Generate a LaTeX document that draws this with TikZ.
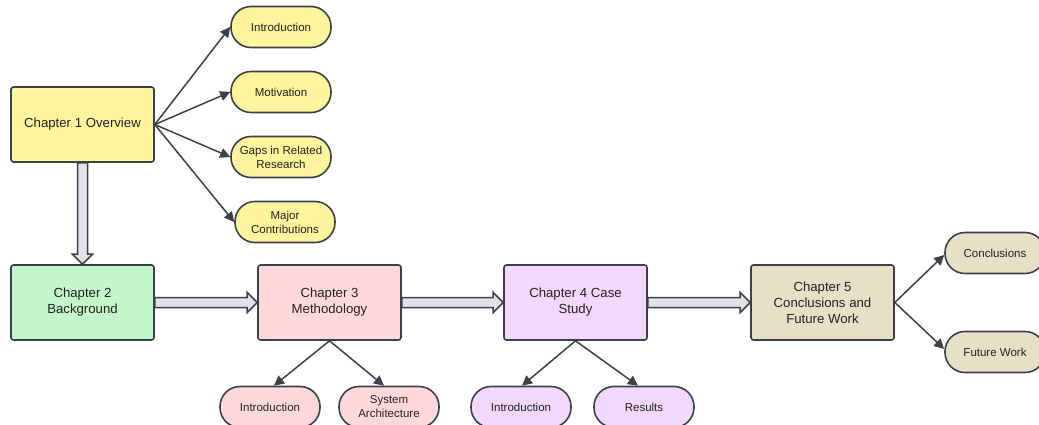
\documentclass[tikz,border=0pt]{standalone}
\usepackage{fontspec}
\setmainfont{Liberation Sans}
\usetikzlibrary{arrows.meta,calc}

\definecolor{edge}{HTML}{3A414B}
\definecolor{ink}{HTML}{222222}
\definecolor{yel}{HTML}{FFF59D}
\definecolor{grn}{HTML}{C3F6C8}
\definecolor{pnk}{HTML}{FFD9D9}
\definecolor{prp}{HTML}{F2D8FD}
\definecolor{tan}{HTML}{E8E0C6}
\definecolor{pipe}{HTML}{DFE3E8}

\tikzset{
  chapter/.style={draw=edge, line width=1.6pt, rounded corners=2.5pt,
    minimum width=143pt, minimum height=75pt, align=center, text=ink,
    font=\fontsize{13.2}{16}\selectfont, inner sep=2pt},
  topic/.style={draw=edge, line width=1.6pt, rounded corners=20pt,
    minimum width=100pt, minimum height=41pt, align=center, text=ink,
    font=\fontsize{11.5}{14}\selectfont, inner sep=1pt},
  link/.style={draw=edge, line width=1.5pt,
    -{Triangle[length=10pt,width=10pt]}},
  pipeflow/.style={draw=edge, fill=pipe, line width=1.5pt, line join=miter},
}

\begin{document}
\begin{tikzpicture}[x=1pt,y=-1pt]
\useasboundingbox (0,0) rectangle (1039,425);

% chapter boxes
\node[chapter, fill=yel] (c1) at (82.5,124.5) {Chapter 1 Overview};
\node[chapter, fill=grn] (c2) at (82.5,302.5) {Chapter 2\\Background};
\node[chapter, fill=pnk] (c3) at (329.5,302.5) {Chapter 3\\Methodology};
\node[chapter, fill=prp] (c4) at (575.5,302.5) {Chapter 4 Case\\Study};
\node[chapter, fill=tan] (c5) at (822.5,302.5) {Chapter 5\\Conclusions and\\Future Work};

% chapter 1 topics
\node[topic, fill=yel] (t11) at (281,27) {Introduction};
\node[topic, fill=yel] (t12) at (281,92) {Motivation};
\node[topic, fill=yel] (t13) at (281,157) {Gaps in Related\\Research};
\node[topic, fill=yel] (t14) at (285,222) {Major\\Contributions};

% chapter 3 topics
\node[topic, fill=pnk] (t31) at (270,407) {Introduction};
\node[topic, fill=pnk] (t32) at (389,407) {System\\Architecture};

% chapter 4 topics
\node[topic, fill=prp] (t41) at (521,407) {Introduction};
\node[topic, fill=prp] (t42) at (644,407) {Results};

% chapter 5 topics
\node[topic, fill=tan] (t51) at (995,253) {Conclusions};
\node[topic, fill=tan] (t52) at (995,352) {Future Work};

% topic links
\foreach \t in {t11,t12,t13,t14}
  \draw[link] (c1.east) -- (\t.west);
\draw[link] (c3.south) -- ($(t31.north)+(4,0)$);
\draw[link] (c3.south) -- ($(t32.north)+(-5,0)$);
\draw[link] (c4.south) -- ($(t41.north)+(1,0)$);
\draw[link] (c4.south) -- ($(t42.north)+(-6,0)$);
\draw[link] (c5.east) -- ($(t51.west)+(0,2)$);
\draw[link] (c5.east) -- ($(t52.west)+(0,-3)$);

% flow between chapters
\draw[pipeflow] ($(c1.south)+(-5,0)$) -- ($(c2.north)+(-5,-10)$)
  -- ($(c2.north)+(-10,-10)$) -- (c2.north) -- ($(c2.north)+(10,-10)$)
  -- ($(c2.north)+(5,-10)$) -- ($(c1.south)+(5,0)$) -- cycle;
\foreach \a/\b in {c2/c3,c3/c4,c4/c5}
  \draw[pipeflow] ($(\a.east)+(0,-5)$) -- ($(\b.west)+(-10,-5)$)
    -- ($(\b.west)+(-10,-10)$) -- (\b.west) -- ($(\b.west)+(-10,10)$)
    -- ($(\b.west)+(-10,5)$) -- ($(\a.east)+(0,5)$) -- cycle;
\end{tikzpicture}
\end{document}
